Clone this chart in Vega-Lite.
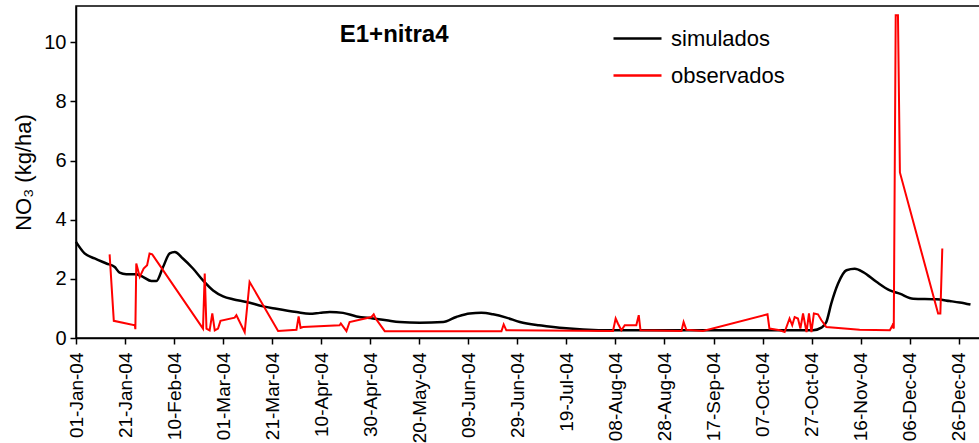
{
  "$schema": "https://vega.github.io/schema/vega-lite/v6.json",
  "width": 904,
  "height": 332,
  "autosize": {"type": "none"},
  "padding": {"left": 76, "top": 6, "right": 0, "bottom": 105},
  "background": "white",
  "config": {
    "font": "Liberation Sans",
    "view": {"stroke": "black", "strokeWidth": 1.5},
    "axis": {"grid": false, "domainColor": "black", "domainWidth": 1.5, "tickColor": "black", "tickWidth": 1.5, "labelColor": "black", "titleColor": "black", "labelFont": "Liberation Sans", "titleFont": "Liberation Sans"}
  },
  "title": {
    "text": "E1+nitra4",
    "fontSize": 24,
    "fontWeight": "bold",
    "font": "Liberation Sans",
    "color": "black",
    "anchor": "start",
    "dx": 327,
    "offset": -60,
    "baseline": "alphabetic"
  },
  "datasets": {
    "simulados": [
      {"date": "2004-01-01T00:00", "no3": 3.25},
      {"date": "2004-01-04T12:00", "no3": 2.86},
      {"date": "2004-01-08T14:00", "no3": 2.69},
      {"date": "2004-01-13T10:00", "no3": 2.52},
      {"date": "2004-01-16T19:00", "no3": 2.40},
      {"date": "2004-01-18T19:00", "no3": 2.21},
      {"date": "2004-01-21T12:00", "no3": 2.16},
      {"date": "2004-01-25T14:00", "no3": 2.16},
      {"date": "2004-01-28T07:00", "no3": 2.07},
      {"date": "2004-01-31T17:00", "no3": 1.93},
      {"date": "2004-02-02T19:00", "no3": 1.93},
      {"date": "2004-02-05T12:00", "no3": 2.40},
      {"date": "2004-02-08T05:00", "no3": 2.86},
      {"date": "2004-02-10T07:00", "no3": 2.91},
      {"date": "2004-02-13T14:00", "no3": 2.69},
      {"date": "2004-02-17T17:00", "no3": 2.35},
      {"date": "2004-02-21T19:00", "no3": 1.95},
      {"date": "2004-02-25T22:00", "no3": 1.61},
      {"date": "2004-03-01T00:00", "no3": 1.41},
      {"date": "2004-03-05T00:00", "no3": 1.31},
      {"date": "2004-03-10T12:00", "no3": 1.22},
      {"date": "2004-03-17T07:00", "no3": 1.07},
      {"date": "2004-03-22T17:00", "no3": 0.99},
      {"date": "2004-03-30T22:00", "no3": 0.88},
      {"date": "2004-04-05T07:00", "no3": 0.82},
      {"date": "2004-04-09T10:00", "no3": 0.85},
      {"date": "2004-04-13T12:00", "no3": 0.88},
      {"date": "2004-04-18T22:00", "no3": 0.85},
      {"date": "2004-04-24T10:00", "no3": 0.73},
      {"date": "2004-05-01T02:00", "no3": 0.66},
      {"date": "2004-05-06T14:00", "no3": 0.60},
      {"date": "2004-05-12T00:00", "no3": 0.54},
      {"date": "2004-05-20T05:00", "no3": 0.52},
      {"date": "2004-05-29T17:00", "no3": 0.54},
      {"date": "2004-06-04T02:00", "no3": 0.71},
      {"date": "2004-06-09T14:00", "no3": 0.83},
      {"date": "2004-06-14T07:00", "no3": 0.85},
      {"date": "2004-06-19T02:00", "no3": 0.80},
      {"date": "2004-06-24T12:00", "no3": 0.69},
      {"date": "2004-06-30T00:00", "no3": 0.54},
      {"date": "2004-07-07T19:00", "no3": 0.43},
      {"date": "2004-07-10T19:00", "no3": 0.40},
      {"date": "2004-07-17T14:00", "no3": 0.34},
      {"date": "2004-07-25T19:00", "no3": 0.29},
      {"date": "2004-08-07T00:00", "no3": 0.26},
      {"date": "2004-10-10T00:00", "no3": 0.26},
      {"date": "2004-10-27T14:00", "no3": 0.26},
      {"date": "2004-10-31T00:00", "no3": 0.35},
      {"date": "2004-11-02T00:00", "no3": 0.54},
      {"date": "2004-11-04T00:00", "no3": 1.16},
      {"date": "2004-11-06T19:00", "no3": 1.84},
      {"date": "2004-11-10T05:00", "no3": 2.29},
      {"date": "2004-11-13T14:00", "no3": 2.34},
      {"date": "2004-11-17T00:00", "no3": 2.23},
      {"date": "2004-11-22T10:00", "no3": 1.90},
      {"date": "2004-11-27T22:00", "no3": 1.61},
      {"date": "2004-12-01T22:00", "no3": 1.50},
      {"date": "2004-12-07T10:00", "no3": 1.33},
      {"date": "2004-12-16T22:00", "no3": 1.31},
      {"date": "2004-12-22T07:00", "no3": 1.25},
      {"date": "2004-12-26T10:00", "no3": 1.20},
      {"date": "2004-12-30T19:00", "no3": 1.13}
    ],
    "observados": [
      {"date": "2004-01-14T17:00", "no3": 2.83},
      {"date": "2004-01-16T10:00", "no3": 0.58},
      {"date": "2004-01-25T00:00", "no3": 0.43},
      {"date": "2004-01-25T05:00", "no3": 0.30},
      {"date": "2004-01-25T14:00", "no3": 2.52},
      {"date": "2004-01-27T00:00", "no3": 2.07},
      {"date": "2004-01-28T14:00", "no3": 2.35},
      {"date": "2004-01-30T00:00", "no3": 2.46},
      {"date": "2004-01-31T00:00", "no3": 2.86},
      {"date": "2004-02-01T02:00", "no3": 2.83},
      {"date": "2004-02-21T19:00", "no3": 0.32},
      {"date": "2004-02-22T12:00", "no3": 2.18},
      {"date": "2004-02-23T05:00", "no3": 0.32},
      {"date": "2004-02-24T12:00", "no3": 0.26},
      {"date": "2004-02-25T14:00", "no3": 0.83},
      {"date": "2004-02-26T14:00", "no3": 0.26},
      {"date": "2004-02-27T22:00", "no3": 0.32},
      {"date": "2004-02-28T22:00", "no3": 0.58},
      {"date": "2004-03-05T17:00", "no3": 0.69},
      {"date": "2004-03-06T10:00", "no3": 0.77},
      {"date": "2004-03-09T19:00", "no3": 0.20},
      {"date": "2004-03-11T19:00", "no3": 1.90},
      {"date": "2004-03-23T10:00", "no3": 0.24},
      {"date": "2004-03-30T22:00", "no3": 0.28},
      {"date": "2004-03-31T19:00", "no3": 0.73},
      {"date": "2004-04-01T14:00", "no3": 0.34},
      {"date": "2004-04-02T14:00", "no3": 0.37},
      {"date": "2004-04-17T12:00", "no3": 0.43},
      {"date": "2004-04-18T00:00", "no3": 0.49},
      {"date": "2004-04-20T07:00", "no3": 0.23},
      {"date": "2004-04-21T14:00", "no3": 0.54},
      {"date": "2004-04-30T12:00", "no3": 0.71},
      {"date": "2004-05-01T10:00", "no3": 0.80},
      {"date": "2004-05-02T05:00", "no3": 0.66},
      {"date": "2004-05-05T22:00", "no3": 0.23},
      {"date": "2004-06-22T12:00", "no3": 0.23},
      {"date": "2004-06-23T10:00", "no3": 0.46},
      {"date": "2004-06-24T12:00", "no3": 0.26},
      {"date": "2004-08-07T00:00", "no3": 0.24},
      {"date": "2004-08-08T02:00", "no3": 0.66},
      {"date": "2004-08-09T00:00", "no3": 0.49},
      {"date": "2004-08-10T10:00", "no3": 0.26},
      {"date": "2004-08-11T19:00", "no3": 0.43},
      {"date": "2004-08-16T12:00", "no3": 0.43},
      {"date": "2004-08-17T12:00", "no3": 0.77},
      {"date": "2004-08-18T05:00", "no3": 0.26},
      {"date": "2004-09-03T22:00", "no3": 0.24},
      {"date": "2004-09-04T19:00", "no3": 0.54},
      {"date": "2004-09-05T22:00", "no3": 0.28},
      {"date": "2004-09-12T17:00", "no3": 0.24},
      {"date": "2004-10-09T00:00", "no3": 0.80},
      {"date": "2004-10-09T19:00", "no3": 0.32},
      {"date": "2004-10-14T00:00", "no3": 0.26},
      {"date": "2004-10-16T00:00", "no3": 0.20},
      {"date": "2004-10-18T00:00", "no3": 0.66},
      {"date": "2004-10-19T02:00", "no3": 0.43},
      {"date": "2004-10-20T02:00", "no3": 0.71},
      {"date": "2004-10-21T10:00", "no3": 0.66},
      {"date": "2004-10-22T10:00", "no3": 0.32},
      {"date": "2004-10-23T12:00", "no3": 0.83},
      {"date": "2004-10-24T22:00", "no3": 0.20},
      {"date": "2004-10-25T22:00", "no3": 0.83},
      {"date": "2004-10-26T22:00", "no3": 0.20},
      {"date": "2004-10-27T22:00", "no3": 0.83},
      {"date": "2004-10-29T14:00", "no3": 0.80},
      {"date": "2004-10-31T00:00", "no3": 0.60},
      {"date": "2004-11-02T00:00", "no3": 0.37},
      {"date": "2004-11-15T14:00", "no3": 0.28},
      {"date": "2004-11-27T22:00", "no3": 0.26},
      {"date": "2004-11-29T00:00", "no3": 0.43},
      {"date": "2004-11-29T12:00", "no3": 0.32},
      {"date": "2004-11-30T07:00", "no3": 10.92},
      {"date": "2004-12-01T05:00", "no3": 10.92},
      {"date": "2004-12-02T00:00", "no3": 5.60},
      {"date": "2004-12-17T14:00", "no3": 0.83},
      {"date": "2004-12-18T12:00", "no3": 0.83},
      {"date": "2004-12-19T07:00", "no3": 3.03}
    ]
  },
  "encoding": {
    "x": {
      "field": "date",
      "type": "temporal",
      "scale": {
        "domain": [
          {"year": 2004, "month": 1, "date": 1},
          {"year": 2005, "month": 1, "date": 3, "hours": 16}
        ],
        "nice": false
      },
      "axis": {
        "title": null,
        "format": "%d-%b-%y",
        "labelAngle": -90,
        "labelFontSize": 19,
        "labelPadding": 8,
        "tickSize": 6,
        "labelOverlap": false,
        "values": [
          {"year": 2004, "month": 1, "date": 1},
          {"year": 2004, "month": 1, "date": 21},
          {"year": 2004, "month": 2, "date": 10},
          {"year": 2004, "month": 3, "date": 1},
          {"year": 2004, "month": 3, "date": 21},
          {"year": 2004, "month": 4, "date": 10},
          {"year": 2004, "month": 4, "date": 30},
          {"year": 2004, "month": 5, "date": 20},
          {"year": 2004, "month": 6, "date": 9},
          {"year": 2004, "month": 6, "date": 29},
          {"year": 2004, "month": 7, "date": 19},
          {"year": 2004, "month": 8, "date": 8},
          {"year": 2004, "month": 8, "date": 28},
          {"year": 2004, "month": 9, "date": 17},
          {"year": 2004, "month": 10, "date": 7},
          {"year": 2004, "month": 10, "date": 27},
          {"year": 2004, "month": 11, "date": 16},
          {"year": 2004, "month": 12, "date": 6},
          {"year": 2004, "month": 12, "date": 26}
        ]
      }
    },
    "y": {
      "field": "no3",
      "type": "quantitative",
      "scale": {"domain": [0, 11.23], "nice": false},
      "axis": {
        "title": "NO₃ (kg/ha)",
        "titleFontSize": 22,
        "titleFontWeight": "normal",
        "titlePadding": 8,
        "labelFontSize": 20,
        "labelPadding": 4,
        "tickSize": 6,
        "values": [0, 2, 4, 6, 8, 10]
      }
    },
    "color": {
      "field": "serie",
      "type": "nominal",
      "scale": {"domain": ["simulados", "observados"], "range": ["#000000", "#ff0000"]},
      "legend": {
        "title": null,
        "orient": "none",
        "legendX": 536,
        "legendY": 7,
        "symbolType": "stroke",
        "symbolSize": 2304,
        "symbolStrokeWidth": 2.5,
        "labelFontSize": 22,
        "labelColor": "black",
        "labelOffset": 8,
        "rowPadding": -13
      }
    }
  },
  "layer": [
    {
      "data": {"name": "simulados"},
      "transform": [{"calculate": "'simulados'", "as": "serie"}],
      "mark": {"type": "line", "strokeWidth": 2.5, "interpolate": "monotone"}
    },
    {
      "data": {"name": "observados"},
      "transform": [{"calculate": "'observados'", "as": "serie"}],
      "mark": {"type": "line", "strokeWidth": 2}
    }
  ]
}
